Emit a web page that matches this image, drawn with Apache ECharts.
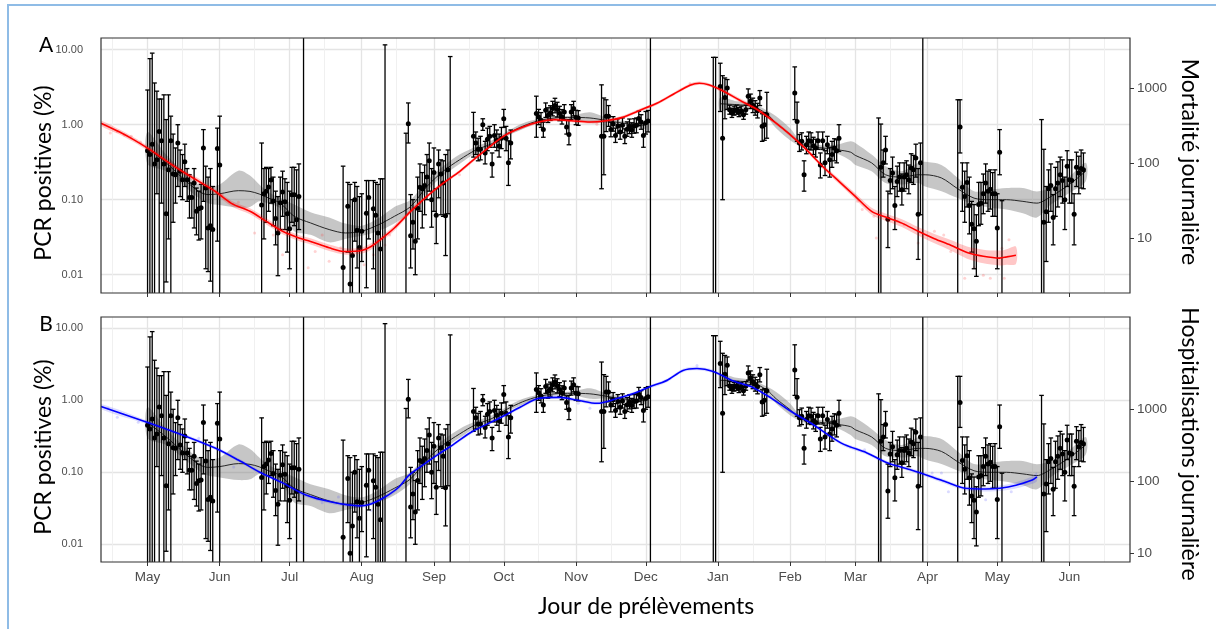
<!DOCTYPE html>
<html><head><meta charset="utf-8">
<script src="https://cdn.jsdelivr.net/npm/echarts@6/dist/echarts.min.js"></script>
<style>html,body{margin:0;padding:0;background:#fff}#c{width:1216px;height:629px}</style>
</head><body><div id="c"></div><script>
// ---------------- DATA ----------------
const monthNames = ['Jan','Feb','Mar','Apr','May','Jun','Jul','Aug','Sep','Oct','Nov','Dec'];
const axisStart = '2020-04-11', axisEnd = '2021-06-27';
const leftTicks = [0.01, 0.1, 1, 10];
const rightTicksA = [10, 100, 1000];
const rightTicksB = [10, 100, 1000];

// PCR positivity: [date, % positive, CI low, CI high]  (0 = none observed)
const pcrRows = [
['2020-05-01',0.45,0,2.9],['2020-05-02',0.40,0,7.6],['2020-05-03',0.55,0,9.0],['2020-05-04',0.30,0,3.6],
['2020-05-05',0.34,0.12,2.8],['2020-05-06',0.81,0,2.2],['2020-05-07',0.61,0.09,2.2],['2020-05-08',0.30,0,2.5],
['2020-05-09',0.065,0.008,1.17],['2020-05-10',0.25,0.03,2.5],['2020-05-11',0.61,0,1.3],['2020-05-12',0.22,0.05,0.75],
['2020-05-13',0.215,0.09,0.49],['2020-05-14',0.57,0.15,1.0],['2020-05-15',0.24,0.11,0.46],['2020-05-16',0.185,0.10,0.40],
['2020-05-17',0.32,0.15,0.55],['2020-05-18',0.185,0.095,0.26],['2020-05-19',0.107,0.057,0.215],['2020-05-20',0.107,0.057,0.167],
['2020-05-21',0.167,0.042,0.26],['2020-05-22',0.07,0.034,0.143],['2020-05-23',0.076,0.029,0.13],['2020-05-24',0.078,0.03,0.16],
['2020-05-25',0.49,0.095,0.86],['2020-05-26',0.143,0.012,0.28],['2020-05-27',0.042,0.011,0.2],['2020-05-28',0.045,0.0082,0.26],
['2020-05-29',0.04,0,0.15],['2020-05-31',0.48,0.028,0.9],['2020-06-01',0.29,0,1.3],
['2020-06-19',0.085,0,0.57],['2020-06-20',0.12,0.03,0.26],['2020-06-21',0.13,0.05,0.27],['2020-06-22',0.148,0.07,0.26],
['2020-06-23',0.183,0.09,0.27],['2020-06-24',0.096,0.045,0.2],['2020-06-25',0.056,0.025,0.13],['2020-06-26',0.036,0.0097,0.11],
['2020-06-27',0.091,0.04,0.2],['2020-06-28',0.127,0.06,0.24],['2020-06-29',0.094,0.04,0.19],['2020-06-30',0.065,0.02,0.17],
['2020-07-01',0.041,0.012,0.13],['2020-07-02',0.116,0.05,0.27],['2020-07-03',0.116,0.045,0.27],['2020-07-04',0.054,0,0.25],
['2020-07-05',0.11,0.04,0.3],['2020-07-07',0,0,100],
['2020-07-24',0.0125,0,0.28],['2020-07-26',0.082,0.02,0.17],['2020-07-27',0.0075,0,0.16],['2020-07-28',0.018,0,0.1],
['2020-07-29',0.1,0.028,0.17],['2020-07-30',0.039,0.0123,0.15],['2020-07-31',0.023,0,0.11],['2020-08-01',0.038,0.015,0.12],
['2020-08-03',0.066,0.0067,0.18],['2020-08-04',0.107,0.03,0.18],['2020-08-06',0.076,0.012,0.18],['2020-08-07',0.062,0,0.17],
['2020-08-08',0.036,0,0.16],['2020-08-09',0.022,0,0.19],['2020-08-10',0,0,0.19],['2020-08-11',0,0,11.6],
['2020-08-20',0,0,0.77],['2020-08-21',1.03,0.57,1.95],['2020-08-22',0.033,0.0123,0.117],['2020-08-23',0.05,0.022,0.1],
['2020-08-24',0.028,0.01,0.077],['2020-08-25',0.077,0.03,0.2],['2020-08-26',0.146,0.07,0.3],['2020-08-27',0.14,0.042,0.23],
['2020-08-28',0.155,0.063,0.29],['2020-08-29',0.2,0.1,0.4],['2020-08-30',0.33,0.13,0.57],['2020-08-31',0.1,0.043,0.26],
['2020-09-01',0.23,0.07,0.49],['2020-09-02',0.062,0.026,0.14],['2020-09-03',0.3,0.106,0.46],['2020-09-04',0.22,0.063,0.34],
['2020-09-05',0.167,0.06,0.33],['2020-09-06',0.061,0.018,0.4],['2020-09-07',0.25,0.065,0.46],['2020-09-08',0,0,8.1],
['2020-09-18',0.7,0.37,1.46],['2020-09-19',0.57,0.4,0.8],['2020-09-20',0.47,0.33,0.66],['2020-09-21',0.47,0.34,0.7],
['2020-09-22',1.0,0.84,1.2],['2020-09-23',0.42,0.3,0.6],['2020-09-24',0.64,0.45,0.9],['2020-09-25',0.7,0.5,0.95],
['2020-09-26',0.3,0.2,0.42],['2020-09-27',0.72,0.5,1.0],['2020-09-28',0.62,0.45,0.85],['2020-09-29',0.52,0.37,0.75],
['2020-09-30',0.66,0.48,0.92],['2020-10-01',1.2,0.92,1.6],['2020-10-02',0.66,0.45,0.95],['2020-10-03',0.31,0.155,0.61],
['2020-10-04',0.57,0.35,0.85],
['2020-10-15',1.41,0.68,2.4],['2020-10-16',1.27,1.0,1.6],['2020-10-17',1.15,0.92,1.45],['2020-10-18',0.86,0.68,1.08],
['2020-10-19',1.56,1.25,1.95],['2020-10-20',1.34,1.07,1.68],['2020-10-21',1.43,1.14,1.79],['2020-10-22',1.64,1.31,2.05],
['2020-10-23',1.8,1.44,2.25],['2020-10-24',1.59,1.27,1.99],['2020-10-25',1.41,1.13,1.76],['2020-10-26',1.27,1.02,1.59],
['2020-10-27',1.48,1.18,1.85],['2020-10-28',0.93,0.75,1.15],['2020-10-29',0.74,0.54,1.17],['2020-10-30',1.48,1.18,1.85],
['2020-10-31',1.64,1.31,2.05],['2020-11-01',1.25,1.0,1.56],['2020-11-02',1.23,0.98,1.54],
['2020-11-12',0.7,0.14,3.4],['2020-11-13',0.7,0.215,2.27],['2020-11-14',1.3,0.81,2.15],['2020-11-15',1.3,0.95,1.8],
['2020-11-16',0.86,0.69,1.08],['2020-11-17',1.02,0.82,1.28],['2020-11-18',0.72,0.58,0.9],['2020-11-19',0.96,0.77,1.2],
['2020-11-20',0.8,0.64,1.0],['2020-11-21',0.98,0.78,1.23],['2020-11-22',0.7,0.56,0.88],['2020-11-23',0.87,0.7,1.09],
['2020-11-24',0.95,0.76,1.19],['2020-11-25',0.85,0.68,1.06],['2020-11-26',0.96,0.77,1.2],['2020-11-27',0.98,0.78,1.23],
['2020-11-28',1.21,0.97,1.51],['2020-11-29',1.09,0.87,1.36],['2020-11-30',0.72,0.5,1.05],['2020-12-01',1.06,0.75,1.5],
['2020-12-02',1.12,0.8,1.55],['2020-12-03',0,0,100],
['2020-12-30',0,0,7.9],['2020-12-31',0,0,7.9],
['2021-01-02',3.24,1.5,6.6],['2021-01-03',0.66,0.1,4.5],['2021-01-04',2.3,1.2,4.2],['2021-01-05',3.08,1.6,4.0],
['2021-01-06',1.58,1.38,1.82],['2021-01-07',1.43,1.25,1.65],['2021-01-08',1.54,1.34,1.77],['2021-01-09',1.58,1.38,1.82],
['2021-01-10',1.47,1.28,1.69],['2021-01-11',1.54,1.34,1.77],['2021-01-12',1.36,1.18,1.56],['2021-01-13',1.58,1.38,1.82],
['2021-01-14',2.39,1.9,3.0],['2021-01-15',2.05,1.64,2.56],['2021-01-16',1.81,1.45,2.26],['2021-01-17',1.67,1.34,2.09],
['2021-01-18',1.54,1.23,1.93],['2021-01-19',2.27,1.8,2.85],['2021-01-20',0.95,0.6,1.4],['2021-01-21',1.0,0.62,1.45],
['2021-01-22',1.36,0.66,2.7],
['2021-02-03',2.64,1.17,5.9],['2021-02-04',1.1,0.6,2.0],['2021-02-05',0.57,0.44,0.74],['2021-02-06',0.6,0.46,0.78],
['2021-02-07',0.215,0.13,0.33],['2021-02-08',0.54,0.41,0.7],['2021-02-09',0.61,0.47,0.8],['2021-02-10',0.6,0.46,0.78],
['2021-02-11',0.525,0.4,0.68],['2021-02-12',0.49,0.37,0.64],['2021-02-13',0.61,0.47,0.8],['2021-02-14',0.29,0.195,0.42],
['2021-02-15',0.61,0.47,0.8],['2021-02-16',0.31,0.21,0.45],['2021-02-17',0.54,0.41,0.7],['2021-02-18',0.34,0.2,0.5],
['2021-02-19',0.4,0.27,0.6],['2021-02-20',0.49,0.33,0.65],['2021-02-21',0.45,0.31,0.63],['2021-02-22',0.66,0.44,1.0],
['2021-03-11',0,0,1.23],['2021-03-12',0.27,0,1.02],['2021-03-13',0.31,0.2,0.46],
['2021-03-14',0.46,0.3,0.7],['2021-03-15',0.055,0.023,0.13],['2021-03-16',0.18,0.12,0.26],['2021-03-17',0.227,0.14,0.37],
['2021-03-18',0.084,0.04,0.15],['2021-03-19',0.175,0.11,0.28],['2021-03-20',0.2,0.13,0.31],['2021-03-21',0.136,0.085,0.22],
['2021-03-22',0.2,0.13,0.31],['2021-03-23',0.215,0.14,0.33],['2021-03-24',0.185,0.12,0.29],['2021-03-25',0.264,0.17,0.41],
['2021-03-26',0.25,0.16,0.39],['2021-03-27',0.36,0.2,0.55],['2021-03-28',0.064,0.016,0.26],['2021-03-29',0.31,0.063,0.57],
['2021-03-30',0,0,100],
['2021-04-14',0,0,2.15],['2021-04-15',0.93,0.42,2.15],['2021-04-16',0.146,0.07,0.31],['2021-04-17',0.11,0.05,0.24],
['2021-04-18',0.17,0.08,0.31],['2021-04-19',0.084,0.035,0.2],['2021-04-20',0.047,0.02,0.095],['2021-04-21',0.041,0.012,0.086],
['2021-04-22',0.028,0.0095,0.063],['2021-04-23',0.086,0.045,0.17],['2021-04-24',0.09,0.047,0.17],['2021-04-25',0.12,0.065,0.22],
['2021-04-26',0.167,0.09,0.3],['2021-04-27',0.13,0.07,0.24],['2021-04-28',0.138,0.075,0.25],['2021-04-29',0.12,0.06,0.23],
['2021-04-30',0.12,0.06,0.25],['2021-05-01',0.042,0.012,0.12],['2021-05-02',0.43,0.215,0.86],['2021-05-03',0,0,0.097],
['2021-05-20',0,0,1.17],['2021-05-21',0.05,0,0.47],
['2021-05-22',0.069,0.015,0.15],['2021-05-23',0.14,0.05,0.25],['2021-05-24',0.155,0.07,0.3],['2021-05-25',0.058,0.025,0.117],
['2021-05-26',0.14,0.06,0.27],['2021-05-27',0.167,0.08,0.32],['2021-05-28',0.215,0.11,0.37],['2021-05-29',0.18,0.09,0.34],
['2021-05-30',0.1,0.04,0.2],['2021-05-31',0.28,0.15,0.45],['2021-06-01',0.185,0.09,0.34],['2021-06-02',0.18,0.09,0.34],
['2021-06-03',0.064,0.025,0.12],['2021-06-04',0.27,0.15,0.43],['2021-06-05',0.227,0.12,0.38],['2021-06-06',0.26,0.143,0.46],
['2021-06-07',0.25,0.14,0.42]
];

// Smoothed PCR positivity (two periods): [date, fit, low, high]
const pcrSmooth1 = [
['2020-05-01',0.49,0.3,0.8],['2020-05-09',0.31,0.24,0.4],['2020-05-16',0.195,0.16,0.24],['2020-05-23',0.129,0.105,0.16],
['2020-05-27',0.117,0.09,0.15],['2020-06-01',0.12,0.085,0.16],['2020-06-09',0.132,0.078,0.244],['2020-06-14',0.129,0.08,0.21],
['2020-06-18',0.119,0.095,0.16],['2020-06-22',0.105,0.088,0.126],['2020-06-27',0.09,0.076,0.105],['2020-07-03',0.06,0.038,0.086],
['2020-07-10',0.049,0.034,0.068],['2020-07-18',0.04,0.027,0.058],['2020-07-25',0.036,0.03,0.048],['2020-08-01',0.038,0.033,0.045],
['2020-08-08',0.046,0.038,0.056],['2020-08-15',0.06,0.048,0.08],['2020-08-22',0.081,0.07,0.1],['2020-08-29',0.15,0.13,0.18],
['2020-09-05',0.24,0.21,0.28],['2020-09-12',0.34,0.3,0.4],['2020-09-19',0.46,0.42,0.51],['2020-09-26',0.56,0.52,0.62],
['2020-10-02',0.74,0.69,0.8],['2020-10-09',0.95,0.87,1.04],['2020-10-16',1.13,1.06,1.2],['2020-10-23',1.23,1.17,1.3],
['2020-10-30',1.25,1.19,1.32],['2020-11-07',1.23,1.05,1.47],['2020-11-14',1.14,1.06,1.25],['2020-11-21',1.05,0.98,1.12],
['2020-11-28',1.0,0.92,1.08],['2020-12-01',0.98,0.88,1.08]
];
const pcrSmooth2 = [
['2021-01-02',1.9,1.55,2.3],['2021-01-09',1.85,1.65,2.05],['2021-01-16',1.75,1.6,1.9],['2021-01-22',1.39,1.25,1.55],
['2021-01-26',1.05,0.9,1.3],['2021-02-01',0.74,0.62,0.9],['2021-02-05',0.57,0.52,0.63],['2021-02-09',0.51,0.47,0.56],
['2021-02-15',0.49,0.45,0.53],['2021-02-22',0.46,0.4,0.55],['2021-02-27',0.43,0.33,0.6],['2021-03-01',0.39,0.29,0.57],
['2021-03-08',0.31,0.24,0.4],['2021-03-14',0.215,0.167,0.28],['2021-03-21',0.2,0.16,0.24],['2021-03-28',0.215,0.167,0.31],
['2021-03-31',0.215,0.15,0.32],['2021-04-07',0.195,0.13,0.29],['2021-04-14',0.14,0.105,0.195],['2021-04-21',0.105,0.086,0.13],
['2021-04-28',0.1,0.078,0.136],['2021-05-05',0.1,0.074,0.143],['2021-05-12',0.095,0.066,0.143],['2021-05-18',0.09,0.058,0.129],
['2021-05-24',0.11,0.086,0.143],['2021-06-01',0.16,0.123,0.205],['2021-06-08',0.24,0.176,0.31]
];

// Daily mortality, smoothed: [date, fit, low, high]
const mortSmooth = [
['2020-04-11',340,315,367],['2020-04-19',259,240,280],['2020-04-25',205,190,221],['2020-05-02',151,140,163],
['2020-05-09',107,99,116],['2020-05-16',77,71,83],['2020-05-23',57,53,62],['2020-05-30',42,39,45],
['2020-06-06',29,26.5,31.5],['2020-06-14',22.7,20.7,24.9],['2020-06-21',16.7,15.2,18.3],['2020-06-28',12.3,11.2,13.5],
['2020-07-05',10,9.1,11],['2020-07-10',9.0,8.2,9.9],['2020-07-18',7.4,6.7,8.2],['2020-07-25',6.6,6.0,7.3],
['2020-08-01',6.8,6.2,7.5],['2020-08-05',7.7,7.0,8.5],['2020-08-09',9.5,8.7,10.4],['2020-08-15',13.6,12.5,14.8],
['2020-08-22',22.7,21,24.5],['2020-08-29',36,34,38],['2020-09-05',54,51,57],['2020-09-12',77,73,81],
['2020-09-19',117,111,123],['2020-09-26',175,166,184],['2020-10-02',239,228,251],['2020-10-09',299,285,314],
['2020-10-16',352,335,370],['2020-10-23',378,360,397],['2020-10-30',367,350,385],['2020-11-07',352,335,370],
['2020-11-14',367,350,385],['2020-11-21',406,387,426],['2020-11-28',499,475,524],['2020-12-06',631,600,663],
['2020-12-13',832,792,874],['2020-12-20',1090,1038,1145],['2020-12-24',1160,1105,1218],['2020-12-28',1107,1054,1162],
['2021-01-03',921,869,976],['2021-01-10',698,658,740],['2021-01-18',514,485,545],['2021-01-25',359,339,381],
['2021-02-01',239,225,253],['2021-02-08',151,142,160],['2021-02-15',90,84,96],['2021-02-22',57,53,61.5],
['2021-03-01',36,33,39.5],['2021-03-08',22.7,20.5,25.3],['2021-03-14',19,17,21.3],['2021-03-21',15.8,14,17.8],
['2021-03-28',12.3,10.8,14],['2021-04-04',9.8,8.5,11.3],['2021-04-11',8.0,6.8,9.4],['2021-04-18',6.4,5.3,7.7],
['2021-04-25',5.7,4.6,7.0],['2021-05-02',5.4,4.3,6.8],['2021-05-05',5.6,4.4,7.1],['2021-05-09',5.9,4.5,7.7]
];
// Daily mortality, raw observations (faint)
const mortRaw = [
['2020-04-15',251],['2020-04-18',264],['2020-04-21',237],['2020-04-24',227],['2020-04-28',190],['2020-05-12',95],
['2020-05-20',62],['2020-06-02',38],['2020-06-09',30],['2020-06-16',11.7],['2020-06-24',11],['2020-06-28',6],
['2020-07-09',4],['2020-07-12',6.6],['2020-07-15',11],['2020-07-18',4.9],['2020-07-23',7.4],['2020-08-02',4.4],
['2020-08-06',6],['2020-08-11',8.1],['2020-08-13',11],['2020-08-22',25],['2020-08-26',29],['2020-08-31',42],
['2020-09-12',70],['2020-09-20',130],['2020-10-05',270],['2020-10-20',390],['2020-11-10',330],['2020-12-20',1150],
['2021-01-20',480],['2021-02-18',75],['2021-03-02',31],['2021-03-04',24],['2021-03-09',19.5],['2021-03-10',10],
['2021-03-19',16.7],['2021-03-22',15],['2021-03-28',8.6],['2021-04-04',12.3],['2021-04-08',11],['2021-04-11',6.6],
['2021-04-17',2.9],['2021-04-21',4],['2021-04-25',3.2],['2021-04-28',2.9],['2021-05-03',7.3],['2021-05-04',2.9],['2021-05-06',9.5]
];

// Daily hospitalisations, smoothed: [date, fit, low, high]
const hospSmooth = [
['2020-04-11',1100,1010,1200],['2020-05-02',646,610,685],['2020-05-16',442,418,468],['2020-05-30',292,276,309],
['2020-06-09',199,188,211],['2020-06-18',136,128,144],['2020-06-28',96,90,102],['2020-07-08',65,61,69],
['2020-07-19',52,49,55],['2020-07-31',46,43,49],['2020-08-05',49,46,52],['2020-08-11',61,57,65],
['2020-08-17',84,79,89],['2020-08-21',120,113,127],['2020-08-26',159,150,168],['2020-09-03',241,228,255],
['2020-09-09',321,304,339],['2020-09-17',485,459,512],['2020-09-29',758,717,801],['2020-10-08',1075,1017,1136],
['2020-10-16',1433,1356,1514],['2020-10-25',1480,1400,1564],['2020-11-02',1345,1272,1421],['2020-11-10',1222,1156,1291],
['2020-11-19',1433,1356,1514],['2020-11-26',1680,1590,1775],['2020-12-02',2033,1924,2148],['2020-12-10',2542,2405,2686],
['2020-12-17',3500,3311,3698],['2020-12-23',3727,3526,3938],['2020-12-30',3388,3205,3580],['2021-01-07',2542,2405,2686],
['2021-01-16',2033,1924,2148],['2021-01-24',1433,1356,1514],['2021-02-02',918,868,970],['2021-02-10',646,611,683],
['2021-02-23',342,323,361],['2021-03-06',250,236,264],['2021-03-15',181,171,191],['2021-03-25',145,137,153],
['2021-04-03',116,109,123],['2021-04-10',96,90,102],['2021-04-17',81,76,86],['2021-04-26',79,73,85],
['2021-05-02',81,74,88],['2021-05-09',89,80,98],['2021-05-16',105,93,118],['2021-05-18',116,101,133]
];
// Daily hospitalisations, raw observations (faint)
const hospRaw = [
['2020-04-14',1040],['2020-04-18',780],['2020-04-27',667],['2020-05-23',400],['2020-06-07',160],['2020-07-15',51],
['2020-07-22',61],['2020-08-05',40],['2020-11-02',1220],['2020-11-07',1040],['2020-12-10',2540],['2020-12-23',4100],
['2021-02-27',302],['2021-03-05',276],['2021-04-03',132],['2021-04-07',132],['2021-04-10',72],['2021-04-20',59],
['2021-04-26',56],['2021-05-07',72],['2021-05-13',98]
];

// ---------------- CHART ----------------
const days = [];
for (let t = Date.parse(axisStart + 'T00:00:00Z'); t <= Date.parse(axisEnd + 'T00:00:00Z'); t += 86400000) {
  days.push(new Date(t).toISOString().slice(0, 10));
}
const dayIndex = {}; days.forEach((d, i) => dayIndex[d] = i);

const LO = { A: [-2.244, 1.156], B: [-2.246, 1.157] };
const RO = { A: 2.511, B: 3.129 };
const GRID = [{ left: 101, top: 38, width: 1029, height: 255 }, { left: 101, top: 317, width: 1029, height: 245 }];
const TICK_FONT = 'Liberation Sans, Arial, sans-serif';
const TITLE_FONT = 'Lato, Open Sans, sans-serif';

const isFirst = (i, v) => v.slice(8) === '01';
const isMid = (i, v) => v.slice(8) === '16';

function xAxes(g, labels) {
  return [{
    type: 'category', gridIndex: g, data: days, boundaryGap: false,
    axisLine: { show: false },
    axisTick: { show: true, interval: isFirst, length: 4, lineStyle: { color: '#333', width: 1 } },
    axisLabel: { show: labels, interval: isFirst, formatter: v => monthNames[+v.slice(5, 7) - 1],
      color: '#4D4D4D', fontSize: 13.5, fontFamily: TICK_FONT, margin: 8 },
    splitLine: { show: true, interval: isFirst, lineStyle: { color: '#E4E4E4', width: 1.3 } }
  }, {
    type: 'category', gridIndex: g, data: days, boundaryGap: false,
    axisLine: { show: false }, axisTick: { show: false }, axisLabel: { show: false },
    splitLine: { show: true, interval: isMid, lineStyle: { color: '#EEEEEE', width: 0.9 } }
  }];
}
function yLeft(g, r) {
  return { type: 'log', logBase: 10, gridIndex: g, min: Math.pow(10, r[0]), max: Math.pow(10, r[1]),
    axisLine: { show: false },
    axisTick: { show: false, customValues: leftTicks },
    axisLabel: { customValues: leftTicks, formatter: v => (+v).toFixed(2), color: '#4D4D4D', fontSize: 11, fontFamily: TICK_FONT,
      margin: 18, showMinLabel: true, showMaxLabel: true },
    splitLine: { show: true, lineStyle: { color: '#E4E4E4', width: 1.3 } } };
}
function yRight(g, r, off, ticks) {
  return { type: 'log', logBase: 10, gridIndex: g, position: 'right',
    min: Math.pow(10, r[0] + off), max: Math.pow(10, r[1] + off),
    axisLine: { show: false },
    axisTick: { show: true, customValues: ticks, length: 4, lineStyle: { color: '#333' } },
    axisLabel: { customValues: ticks, formatter: v => String(Math.round(v)), color: '#4D4D4D', fontSize: 13.5, fontFamily: TICK_FONT,
      margin: 7, showMinLabel: true, showMaxLabel: true },
    splitLine: { show: false } };
}

function errorBars(xi, yi) {
  return {
    type: 'custom', xAxisIndex: xi, yAxisIndex: yi, clip: true, silent: true, z: 4,
    encode: { x: 0, y: 3 },
    data: pcrRows,
    renderItem(params, api) {
      const xi_ = api.value(0), v = api.value(1), lo = api.value(2), hi = api.value(3);
      const cs = params.coordSys;
      const top = api.coord([xi_, hi]);
      const x = top[0];
      const yB = lo > 0 ? api.coord([xi_, lo])[1] : cs.y + cs.height + 3;
      const st = { stroke: '#000', lineWidth: 1.3 };
      const ch = [
        { type: 'line', shape: { x1: x, y1: top[1], x2: x, y2: yB }, style: st },
        { type: 'line', shape: { x1: x - 2.3, y1: top[1], x2: x + 2.3, y2: top[1] }, style: st }
      ];
      if (lo > 0) ch.push({ type: 'line', shape: { x1: x - 2.3, y1: yB, x2: x + 2.3, y2: yB }, style: st });
      if (v > 0) {
        const p = api.coord([xi_, v]);
        ch.push({ type: 'circle', shape: { cx: p[0], cy: p[1], r: 2.5 }, style: { fill: '#000' } });
      }
      return { type: 'group', children: ch };
    }
  };
}
function ribbon(rows, color, xi, yi, z) {
  return {
    type: 'custom', xAxisIndex: xi, yAxisIndex: yi, clip: true, silent: true, z: z,
    encode: { x: 0, y: 1 },
    data: [[rows[0][0], rows[0][1]]],
    renderItem(params, api) {
      const up = rows.map(r => api.coord([dayIndex[r[0]], r[3]]));
      const dn = rows.map(r => api.coord([dayIndex[r[0]], r[2]])).reverse();
      return { type: 'polygon', shape: { points: up.concat(dn), smooth: 0.3 }, style: { fill: color } };
    }
  };
}
function fitLine(rows, color, width, xi, yi, z) {
  return { type: 'line', xAxisIndex: xi, yAxisIndex: yi, z: z, silent: true, smooth: 0.3,
    showSymbol: false, symbol: 'none', data: rows.map(r => [r[0], r[1]]),
    lineStyle: { color: color, width: width } };
}
function faint(rows, color, xi, yi) {
  return { type: 'scatter', xAxisIndex: xi, yAxisIndex: yi, z: 3, silent: true, symbolSize: 3,
    data: rows, itemStyle: { color: color } };
}

const series = [];
[[0, 0, 1, 'A'], [2, 2, 3, 'B']].forEach(([xi, yl, yr, P]) => {
  series.push(ribbon(pcrSmooth1, 'rgba(120,120,120,0.42)', xi, yl, 1));
  series.push(ribbon(pcrSmooth2, 'rgba(120,120,120,0.42)', xi, yl, 1));
  series.push(fitLine(pcrSmooth1, '#262626', 1, xi, yl, 2));
  series.push(fitLine(pcrSmooth2, '#262626', 1, xi, yl, 2));
  series.push(errorBars(xi, yl));
  if (P === 'A') {
    series.push(faint(mortRaw, 'rgba(255,60,60,0.28)', xi, yr));
    series.push(ribbon(mortSmooth, 'rgba(255,0,0,0.22)', xi, yr, 5));
    series.push(fitLine(mortSmooth, '#FF0000', 1.6, xi, yr, 6));
  } else {
    series.push(faint(hospRaw, 'rgba(90,90,255,0.28)', xi, yr));
    series.push(ribbon(hospSmooth, 'rgba(0,0,255,0.14)', xi, yr, 5));
    series.push(fitLine(hospSmooth, '#0000FF', 1.6, xi, yr, 6));
  }
});

const txt = (text, x, y, rot, size) => ({
  type: 'text', x: x, y: y, rotation: rot, z: 200, silent: true,
  style: { text: text, font: size + 'px ' + TITLE_FONT, fill: '#000', textAlign: 'center', textVerticalAlign: 'middle' }
});

const option = {
  animation: false,
  backgroundColor: '#fff',
  grid: GRID.map(g => Object.assign({ show: false, outerBoundsMode: 'none', containLabel: false }, g)),
  xAxis: [].concat(xAxes(0, false), xAxes(1, true)),
  yAxis: [yLeft(0, LO.A), yRight(0, LO.A, RO.A, rightTicksA), yLeft(1, LO.B), yRight(1, LO.B, RO.B, rightTicksB)],
  series: series,
  graphic: [
    { type: 'rect', z: 150, silent: true, shape: { x: GRID[0].left, y: GRID[0].top, width: GRID[0].width, height: GRID[0].height }, style: { fill: null, stroke: '#333', lineWidth: 1.2 } },
    { type: 'rect', z: 150, silent: true, shape: { x: GRID[1].left, y: GRID[1].top, width: GRID[1].width, height: GRID[1].height }, style: { fill: null, stroke: '#333', lineWidth: 1.2 } },
    { type: 'polyline', z: 150, silent: true, shape: { points: [[8, 629], [8, 5], [1216, 5]] }, style: { fill: null, stroke: '#8FBCE6', lineWidth: 2 } },
    txt('PCR positives (%)', 44, 173, Math.PI / 2, 23),
    txt('PCR positives (%)', 44, 447, Math.PI / 2, 23),
    txt('Mortalité journalière', 1189, 162, -Math.PI / 2, 23),
    txt('Hospitalisations journalière', 1189, 444, -Math.PI / 2, 23),
    txt('Jour de prélèvements', 646, 607, 0, 23),
    txt('A', 46, 45, 0, 21),
    txt('B', 46, 324, 0, 21)
  ]
};
const chart = echarts.init(document.getElementById('c'), null, { renderer: 'canvas' });
chart.setOption(option);
</script></body></html>
